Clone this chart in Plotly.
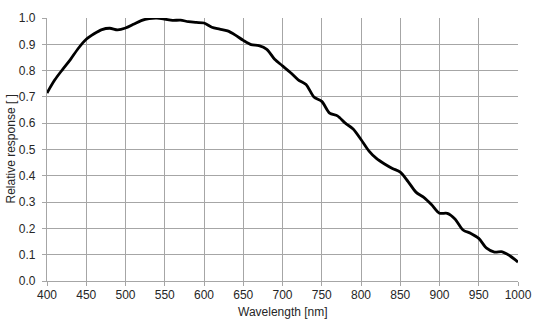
import plotly.graph_objects as go

wavelength = [400, 410, 420, 430, 440, 450, 460, 470, 480, 490, 500, 510, 520, 530, 540, 550,
              560, 570, 580, 590, 600, 610, 620, 630, 640, 650, 660, 670, 680, 690, 700, 710,
              720, 730, 740, 750, 760, 770, 780, 790, 800, 810, 820, 830, 840, 850, 860, 870,
              880, 890, 900, 910, 920, 930, 940, 950, 960, 970, 980, 990, 1000]
response = [0.715, 0.765, 0.805, 0.843, 0.885, 0.919, 0.940, 0.956, 0.961, 0.955, 0.962, 0.976,
            0.990, 0.998, 1.000, 0.996, 0.991, 0.992, 0.986, 0.983, 0.981, 0.965, 0.958, 0.951,
            0.935, 0.915, 0.899, 0.895, 0.881, 0.843, 0.818, 0.793, 0.765, 0.747, 0.700, 0.683,
            0.638, 0.628, 0.600, 0.578, 0.538, 0.495, 0.465, 0.445, 0.428, 0.414, 0.378, 0.338,
            0.318, 0.290, 0.258, 0.257, 0.235, 0.194, 0.181, 0.162, 0.125, 0.110, 0.111, 0.095,
            0.072]

x_ticks = list(range(400, 1001, 50))
y_ticks = [i / 10 for i in range(0, 11)]
x_title = "Wavelength [nm]"
y_title = "Relative response [ ]"

fig = go.Figure()
fig.add_trace(go.Scatter(x=wavelength, y=response, mode="lines",
                         line=dict(color="black", width=2.8, shape="spline", smoothing=0.8),
                         showlegend=False, hoverinfo="skip"))

grid_col = "#a6a6a6"
text_col = "#262626"
fig.update_layout(
    width=541, height=321,
    margin=dict(l=47, r=23, t=18, b=40, autoexpand=False),
    paper_bgcolor="white", plot_bgcolor="white",
    font=dict(family="Liberation Sans, Arial, sans-serif", size=12, color=text_col),
    xaxis=dict(range=[400, 1000], tickmode="array", tickvals=x_ticks,
               showgrid=True, gridcolor=grid_col, gridwidth=1.3,
               showline=True, linecolor=grid_col, linewidth=1.3,
               ticks="outside", ticklen=4, tickcolor=grid_col, tickwidth=1.3,
               ticklabelstandoff=-2,
               zeroline=False, automargin=False),
    yaxis=dict(range=[0, 1.0], tickmode="array", tickvals=y_ticks, tickformat=".1f",
               showgrid=True, gridcolor=grid_col, gridwidth=1.3,
               showline=True, linecolor=grid_col, linewidth=1.3,
               ticks="outside", ticklen=4, tickcolor=grid_col, tickwidth=1.3,
               ticklabelstandoff=4,
               zeroline=False, automargin=False),
    annotations=[
        dict(text=x_title, xref="paper", yref="paper", x=0.5, y=0, yshift=-31,
             xanchor="center", yanchor="middle", showarrow=False,
             font=dict(size=12, color=text_col)),
        dict(text=y_title, xref="paper", yref="paper", x=0, y=0.5, xshift=-37,
             xanchor="center", yanchor="middle", textangle=-90, showarrow=False,
             font=dict(size=12, color=text_col)),
    ],
)

fig.write_html("out.html", config={"displayModeBar": False},
               post_script="document.body.style.margin='0';document.body.style.padding='0';")
